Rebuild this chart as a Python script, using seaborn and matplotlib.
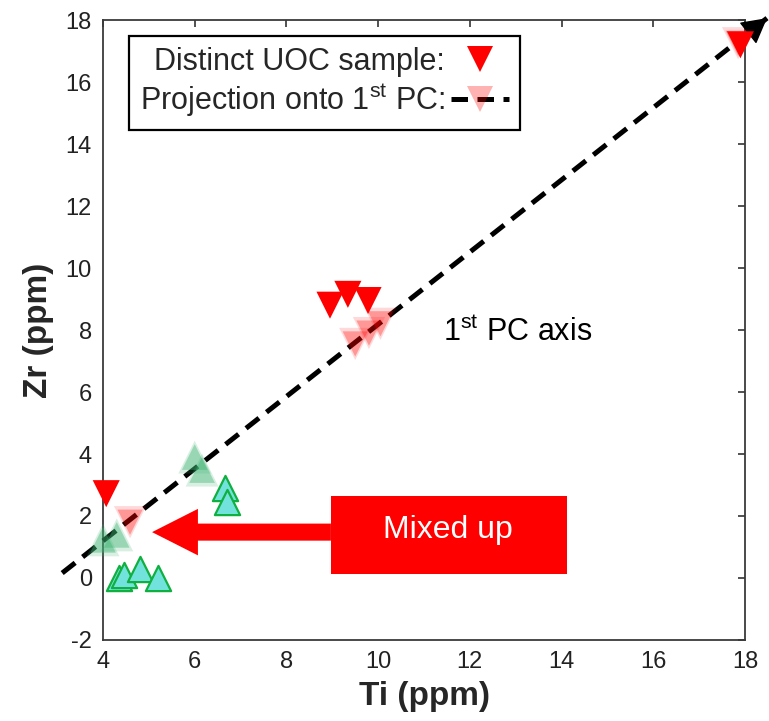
import numpy as np
import pandas as pd
import matplotlib
matplotlib.use("Agg")
import matplotlib.pyplot as plt
import seaborn as sns
from matplotlib.lines import Line2D
from matplotlib.patches import Rectangle

# ---- data ----
uoc_ti = [4.07, 8.95, 9.34, 9.78, 17.9]
uoc_zr = [2.72, 8.8, 9.15, 8.95, 17.2]
proj_ti = [4.59, 9.5, 9.8, 10.05, 17.85]
proj_zr = [1.8, 7.55, 7.9, 8.2, 17.25]
faded_ti = [4.0, 4.3, 6.0, 6.16]
faded_zr = [1.23, 1.39, 3.9, 3.48]
other_ti = [4.35, 4.45, 4.81, 5.2, 6.66, 6.7]
other_zr = [0.0, 0.1, 0.3, 0.0, 2.9, 2.45]
pc_ti = [3.11, 18.48]
pc_zr = [0.16, 18.06]
xticks = [4, 6, 8, 10, 12, 14, 16, 18]
yticks = [-2, 0, 2, 4, 6, 8, 10, 12, 14, 16, 18]

sns.set_style("white")
plt.rcParams["font.family"] = ["Liberation Sans", "DejaVu Sans"]
plt.rcParams["mathtext.fontset"] = "custom"
plt.rcParams["mathtext.rm"] = "Liberation Sans"
plt.rcParams["mathtext.default"] = "regular"
plt.rcParams["axes.unicode_minus"] = False

fig = plt.figure(figsize=(7.69, 7.21), dpi=100)
ax = fig.add_axes([103 / 769, 1 - 640 / 721, 642 / 769, 620 / 721])

RED = "#ff0000"
dash = (0, (3.3, 1.9))

# other samples (cyan, green edge)
sns.scatterplot(x=other_ti, y=other_zr, marker="^", s=330, color="#72e3dc",
                edgecolor="#10b040", linewidth=1.6, ax=ax, legend=False, zorder=3, clip_on=False)

# PC axis dashed line
sns.lineplot(x=pc_ti, y=pc_zr, color="black", lw=3.6, ax=ax, legend=False,
             zorder=4, estimator=None, sort=False)
ax.lines[-1].set_linestyle(dash)
ax.lines[-1].set_clip_on(False)
ax.annotate("", xy=(pc_ti[1], pc_zr[1]), xytext=(pc_ti[1] - 0.4, pc_zr[1] - 0.466),
            arrowprops=dict(arrowstyle="-|>,head_length=0.4,head_width=0.22",
                            color="black", lw=1, mutation_scale=40, shrinkA=0, shrinkB=0),
            annotation_clip=False, zorder=6)

# faded green (blurred look: two layers)
sns.scatterplot(x=faded_ti, y=faded_zr, marker="^", s=560, color="#3cb371", alpha=0.2,
                linewidth=0, edgecolor="none", ax=ax, legend=False, zorder=5, clip_on=False)
sns.scatterplot(x=faded_ti, y=faded_zr, marker="^", s=340, color="#3cb371", alpha=0.4,
                linewidth=0, edgecolor="none", ax=ax, legend=False, zorder=5, clip_on=False)

# faded red projections
sns.scatterplot(x=proj_ti, y=proj_zr, marker="v", s=540, color=RED, alpha=0.15,
                linewidth=0, edgecolor="none", ax=ax, legend=False, zorder=5, clip_on=False)
sns.scatterplot(x=proj_ti, y=proj_zr, marker="v", s=330, color=RED, alpha=0.3,
                linewidth=0, edgecolor="none", ax=ax, legend=False, zorder=5, clip_on=False)

# distinct UOC samples
sns.scatterplot(x=uoc_ti, y=uoc_zr, marker="v", s=380, color=RED, linewidth=0, edgecolor="none",
                ax=ax, legend=False, zorder=7, clip_on=False)

# red arrow + box
ax.arrow(8.97, 1.48, 5.07 - 8.97, 0, width=0.55, head_width=1.5, head_length=1.0,
         length_includes_head=True, color=RED, lw=0, zorder=6)
ax.add_patch(Rectangle((8.97, 0.13), 14.12 - 8.97, 2.52, facecolor=RED, edgecolor="none", zorder=6))
ax.text(11.52, 1.55, "Mixed up", color="white", fontsize=23, ha="center", va="center", zorder=7)

ax.text(11.41, 7.9, "1$^{st}$ PC axis", fontsize=22, ha="left", va="center", color="black")

ax.set_xlim(4, 18)
ax.set_ylim(-2, 18)
ax.set_xticks(xticks)
ax.set_yticks(yticks)
ax.tick_params(direction="in", length=5, width=1.2, colors="#333333", labelcolor="#222222",
               labelsize=17, top=True, right=True, pad=8)
for s in ax.spines.values():
    s.set_color("#3a3a3a")
    s.set_linewidth(1.3)
ax.set_xlabel("Ti (ppm)", fontsize=24, fontweight="bold", labelpad=6)
ax.set_ylabel("Zr (ppm)", fontsize=24, fontweight="bold", labelpad=8)

h1 = Line2D([], [], marker="v", color=RED, markersize=19, linestyle="none", markeredgewidth=0)
h2a = Line2D([], [], color="black", lw=3.6, linestyle=dash)
h2b = Line2D([], [], marker="v", color=RED, alpha=0.3, markersize=19, linestyle="none", markeredgewidth=0)
leg = ax.legend([h1, (h2a, h2b)], ["Distinct UOC sample:", "Projection onto 1$^{st}$ PC:"],
                loc="upper left", bbox_to_anchor=(0.0405, 0.974), markerfirst=False,
                fontsize=22, frameon=True, fancybox=False, edgecolor="black", framealpha=1,
                handlelength=1.9, handletextpad=0.2, labelspacing=0.15, borderpad=0.35,
                borderaxespad=0)
leg.get_frame().set_linewidth(1.6)

fig.savefig("out.png", dpi=100)
